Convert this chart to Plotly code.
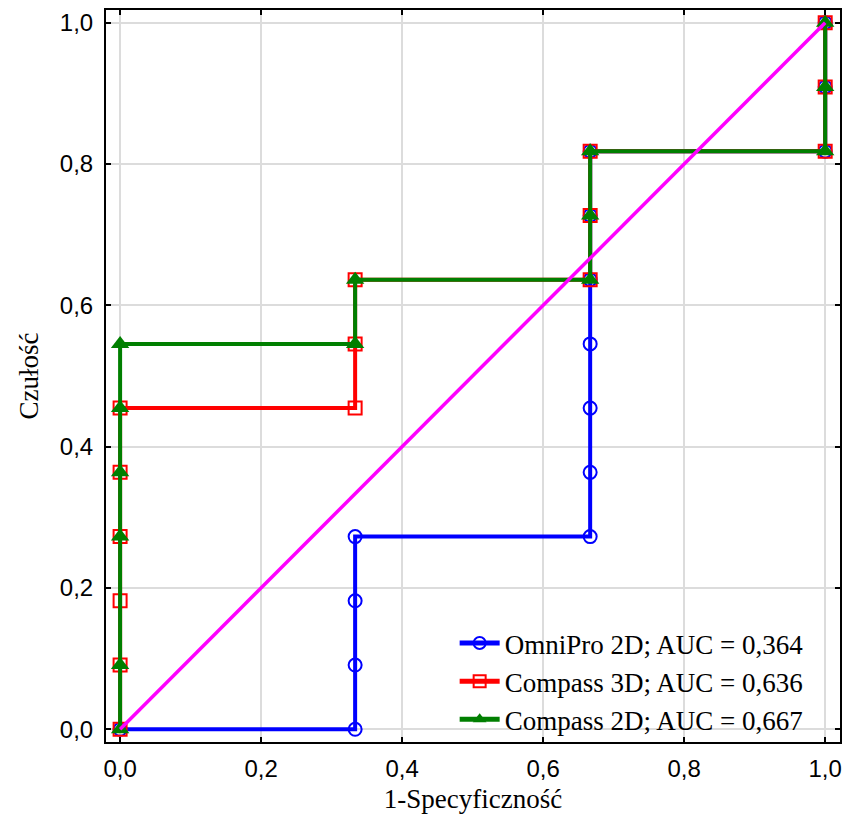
import plotly.graph_objects as go

# ROC data (1-specificity, sensitivity)
omni_x = [0, 1/3, 1/3, 1/3, 1/3, 2/3, 2/3, 2/3, 2/3, 2/3, 2/3, 2/3, 1, 1, 1]
omni_y = [0, 0, 1/11, 2/11, 3/11, 3/11, 4/11, 5/11, 6/11, 7/11, 8/11, 9/11, 9/11, 10/11, 1]

c3d_x = [0, 0, 0, 0, 0, 0, 1/3, 1/3, 1/3, 2/3, 2/3, 2/3, 1, 1, 1]
c3d_y = [0, 1/11, 2/11, 3/11, 4/11, 5/11, 5/11, 6/11, 7/11, 7/11, 8/11, 9/11, 9/11, 10/11, 1]

c2d_x = [0, 0, 0, 0, 0, 0, 1/3, 1/3, 2/3, 2/3, 2/3, 1, 1, 1]
c2d_y = [0, 1/11, 3/11, 4/11, 5/11, 6/11, 6/11, 7/11, 7/11, 8/11, 9/11, 9/11, 10/11, 1]

diag_x = [0, 1]
diag_y = [0, 1]

names = ["OmniPro 2D; AUC = 0,364", "Compass 3D; AUC = 0,636", "Compass 2D; AUC = 0,667"]
ticks = [0, 0.2, 0.4, 0.6, 0.8, 1.0]

SERIF = "Liberation Serif, Times New Roman"
SANS = "Liberation Sans, Arial"

fig = go.Figure()
fig.add_trace(go.Scatter(x=omni_x, y=omni_y, mode="lines+markers", name=names[0],
                         line=dict(color="#0000FF", width=4),
                         marker=dict(symbol="circle-open", size=13, color="#0000FF", line=dict(width=2))))
fig.add_trace(go.Scatter(x=c3d_x, y=c3d_y, mode="lines+markers", name=names[1],
                         line=dict(color="#FF0000", width=4),
                         marker=dict(symbol="square-open", size=13, color="#FF0000", line=dict(width=2))))
fig.add_trace(go.Scatter(x=c2d_x, y=c2d_y, mode="lines+markers", name=names[2],
                         line=dict(color="#007F00", width=4),
                         marker=dict(symbol="triangle-up", size=16, color="#007F00")))
fig.add_trace(go.Scatter(x=diag_x, y=diag_y, mode="lines", showlegend=False,
                         line=dict(color="#FF00FF", width=3.5)))

axis_common = dict(
    showline=True, linecolor="black", linewidth=2, mirror="ticks",
    ticks="inside", ticklen=5, tickwidth=2, tickcolor="black",
    showgrid=True, gridcolor="#dcdcdc", gridwidth=1.5, zeroline=False,
    tickvals=ticks, tickformat=".1f", automargin=False,
    tickfont=dict(family=SANS, size=24, color="black"),
)

fig.update_xaxes(range=[-0.02, 1.021], ticklabelstandoff=4,
                 title=dict(text="1-Specyficzność", font=dict(family=SERIF, size=27, color="black"), standoff=8),
                 **axis_common)
fig.update_yaxes(range=[-0.018, 1.018], ticklabelstandoff=6,
                 title=dict(text="Czułość", font=dict(family=SERIF, size=27, color="black"), standoff=13),
                 **axis_common)

fig.update_layout(
    width=845, height=837,
    margin=dict(l=106, r=5, t=10, b=95),
    plot_bgcolor="white", paper_bgcolor="white",
    separators=", ",
    legend=dict(x=0.475, y=0.168, xanchor="left", yanchor="top",
                bgcolor="rgba(0,0,0,0)", itemwidth=40,
                font=dict(family=SERIF, size=27, color="black"),
                tracegroupgap=0, itemsizing="constant"),
)

fig.write_html("out.html", config={"displayModeBar": False},
               post_script="document.body.style.margin='0';document.body.style.overflow='hidden';")
